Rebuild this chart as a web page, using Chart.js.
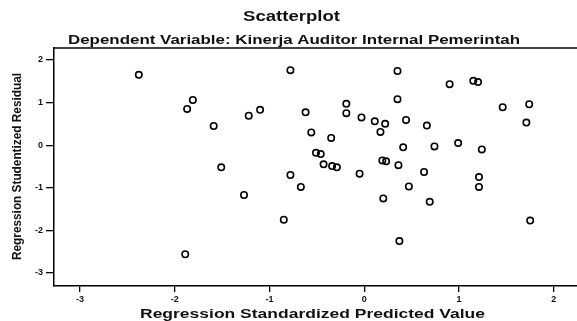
<!DOCTYPE html>
<html>
<head>
<meta charset="utf-8">
<script src="https://cdn.jsdelivr.net/npm/chart.js@4.4.0/dist/chart.umd.min.js"></script>
<style>
  html, body { margin: 0; padding: 0; background: #fff; overflow: hidden; }
  #wrap { width: 600px; height: 321px; }
</style>
</head>
<body>
<div id="wrap"><canvas id="scatterChart" width="600" height="321"></canvas></div>
<script>
const xTickValues = [-3, -2, -1, 0, 1, 2];
const yTickValues = [-3, -2, -1, 0, 1, 2];

const predictedValue = [
  -2.38, -1.87, -1.81, -1.89, -0.78, -1.59, -1.22, -1.10, -0.62, -0.56,
  -0.35, -0.19, -0.19, -0.03, 0.11, -0.51, -0.46, -1.51, -0.43, -0.34,
  -0.29, -0.05, -0.78, -0.67, -1.27, -0.85, 0.35, 0.90, 1.15, 1.20,
  0.35, 1.46, 1.74, 1.71, 0.22, 0.17, 0.44, 0.66, 0.41, 0.74,
  0.99, 1.24, 0.19, 0.23, 0.36, 0.63, 1.21, 1.21, 0.47, 0.20,
  0.69, 1.75, 0.37
];
const studentizedResidual = [
  1.65, 0.85, 1.06, -2.56, 1.76, 0.45, 0.69, 0.83, 0.77, 0.30,
  0.17, 0.97, 0.75, 0.65, 0.56, -0.18, -0.21, -0.52, -0.45, -0.49,
  -0.52, -0.67, -0.70, -0.98, -1.17, -1.75, 1.74, 1.43, 1.51, 1.48,
  1.08, 0.89, 0.96, 0.53, 0.50, 0.31, 0.59, 0.46, -0.05, -0.03,
  0.05, -0.10, -0.36, -0.38, -0.47, -0.63, -0.75, -0.98, -0.97, -1.25,
  -1.33, -1.77, -2.25
];

const chartTitle = 'Scatterplot';
const chartSubtitle = 'Dependent Variable: Kinerja Auditor Internal Pemerintah';
const xAxisTitle = 'Regression Standardized Predicted Value';
const yAxisTitle = 'Regression Studentized Residual';

const points = predictedValue.map((x, i) => ({ x: x, y: studentizedResidual[i] }));

// draw bold text stretched to a given width (the scan is wide)
function fitText(ctx, text, x, y, size, width, angle) {
  ctx.save();
  ctx.font = 'bold ' + size + 'px "Liberation Sans", Arial, sans-serif';
  const w = ctx.measureText(text).width;
  ctx.translate(x, y);
  if (angle) ctx.rotate(angle);
  ctx.scale(width / w, 1);
  ctx.textAlign = 'center';
  ctx.textBaseline = 'alphabetic';
  ctx.fillStyle = '#111';
  ctx.fillText(text, 0, 0);
  ctx.restore();
}

const textPlugin = {
  id: 'spssText',
  afterDraw(chart) {
    const ctx = chart.ctx;
    const area = chart.chartArea;
    // top frame line
    ctx.save();
    ctx.strokeStyle = '#000';
    ctx.lineWidth = 1.5;
    ctx.beginPath();
    ctx.moveTo(area.left, area.top);
    ctx.lineTo(area.right, area.top);
    ctx.stroke();
    ctx.restore();

    fitText(ctx, chartTitle, 291.5, 21, 14, 97);
    fitText(ctx, chartSubtitle, 294, 44, 13, 452);
    fitText(ctx, xAxisTitle, 312.5, 318, 13.5, 345);
    fitText(ctx, yAxisTitle, 21, 166.5, 12.5, 187, -Math.PI / 2);
  }
};

const tickFont = { family: '"Liberation Sans", Arial, sans-serif', size: 9, weight: 'bold' };

new Chart(document.getElementById('scatterChart'), {
  type: 'scatter',
  data: {
    datasets: [{
      data: points,
      pointStyle: 'circle',
      pointRadius: 3.2,
      pointBorderWidth: 1.6,
      pointBorderColor: '#000',
      pointBackgroundColor: 'rgba(255,255,255,0)'
    }]
  },
  options: {
    responsive: false,
    animation: false,
    layout: { padding: { top: 48, left: 0, right: 0, bottom: 0 } },
    plugins: {
      legend: { display: false },
      tooltip: { enabled: false },
      title: { display: false }
    },
    scales: {
      x: {
        type: 'linear',
        min: -3.275,
        max: 2.428,
        afterFit: scale => { scale.height = 35; },
        afterBuildTicks: scale => { scale.ticks = xTickValues.map(v => ({ value: v })); },
        border: { display: true, color: '#000', width: 1.5 },
        grid: { drawOnChartArea: false, drawTicks: true, tickLength: 6, color: '#000', lineWidth: 1.3 },
        ticks: { color: '#111', font: tickFont, padding: 2, maxRotation: 0, autoSkip: false }
      },
      y: {
        type: 'linear',
        min: -3.305,
        max: 2.28,
        afterFit: scale => { scale.width = 54; },
        afterBuildTicks: scale => { scale.ticks = yTickValues.map(v => ({ value: v })); },
        border: { display: true, color: '#000', width: 1.5 },
        grid: { drawOnChartArea: false, drawTicks: true, tickLength: 8, color: '#000', lineWidth: 1.3 },
        ticks: { color: '#111', font: tickFont, padding: 3, autoSkip: false }
      }
    }
  },
  plugins: [textPlugin]
});
</script>
</body>
</html>
